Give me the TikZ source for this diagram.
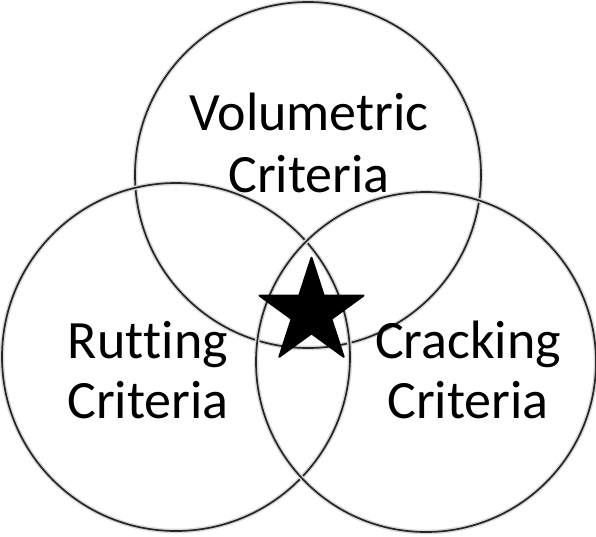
\documentclass[tikz,border=0pt]{standalone}
\usepackage{fontspec}
\setmainfont[Ligatures={NoCommon},RawFeature={-liga;-calt;-clig}]{Carlito}
\usetikzlibrary{shapes.geometric}
\begin{document}
\begin{tikzpicture}[x=1pt,y=-1pt,
  ring/.style={draw=black!85,line width=1.7pt,preaction={draw=black!15,line width=4.5pt}},
  lbl/.style={font=\fontsize{54}{62}\selectfont,align=center,inner sep=0pt,anchor=base},
  bigstar/.style={star,star points=5,star point ratio=2.618,minimum size=109.4pt,inner sep=0pt,fill=black,draw=black,line width=2pt,line join=round}]
\useasboundingbox (0,0) rectangle (596,536);
\fill[white] (0,0) rectangle (596,536);
\coordinate (ct) at (308,175);
\coordinate (cl) at (176,357);
\coordinate (cr) at (426,362);
\draw[ring] (ct) circle (173);
\draw[ring] (cl) circle (174);
\draw[ring] (cr) circle (170);
\node[lbl] (v1) at (309,130) {Volumetric};
\node[lbl] (v2) at (309,192) {Criteria};
\node[lbl] (r1) at (148,358) {Rut\kern0pt ting};
\node[lbl] (r2) at (148,418) {Criteria};
\node[lbl] (c1) at (468,358) {Cracking};
\node[lbl] (c2) at (468,418) {Criteria};
\node[bigstar] (st) at (311.5,312.5) {};
\end{tikzpicture}
\end{document}
